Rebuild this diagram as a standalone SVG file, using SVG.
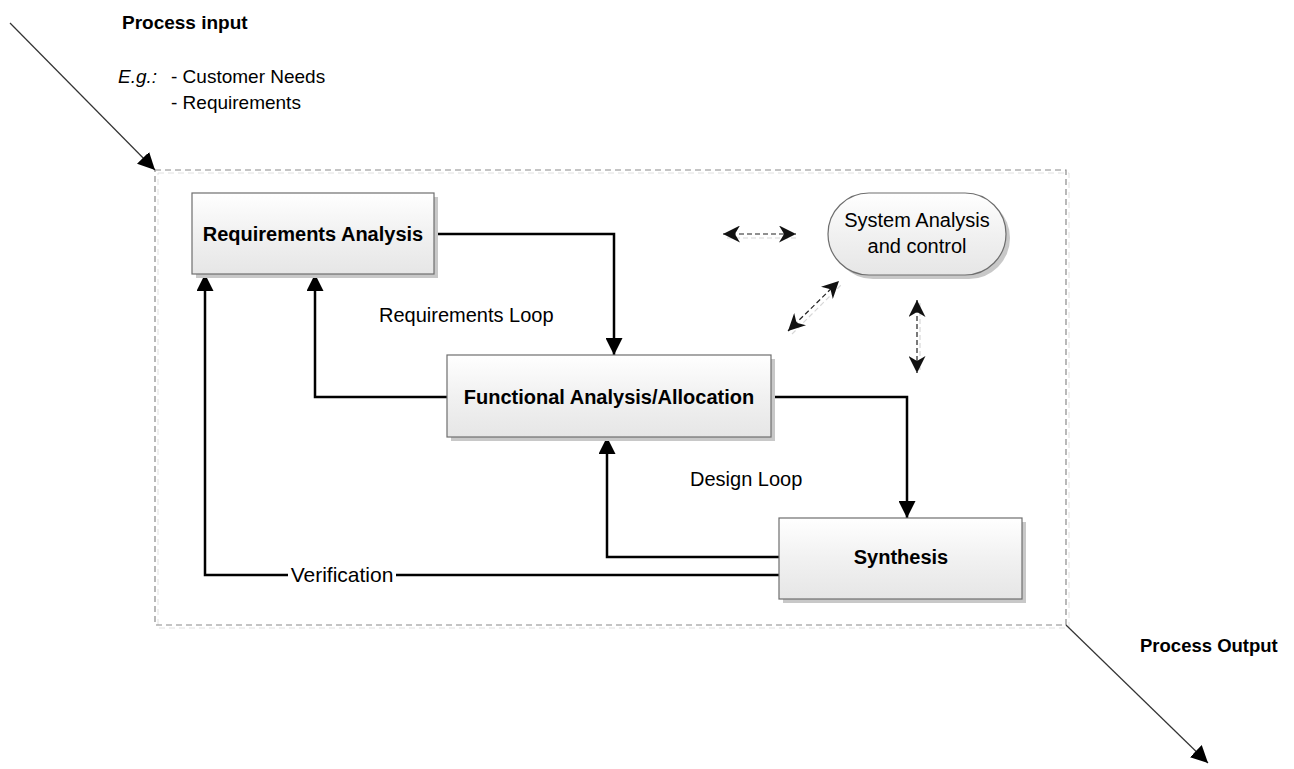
<svg xmlns="http://www.w3.org/2000/svg" width="1294" height="769" viewBox="0 0 1294 769">
<style>
.t{font-family:"Liberation Sans",Arial,sans-serif;fill:#000}
.b{font-weight:bold;font-size:20px}
.n{font-size:20px}
.box{fill:url(#g);stroke:#6e6e6e;stroke-width:1.2}
.sh{fill:#c8c8c8}
.w{fill:none;stroke:#000;stroke-width:2.5}
.d{fill:none;stroke:#222;stroke-width:1.2;stroke-dasharray:5,3}
.ds{fill:none;stroke:#d8d8d8;stroke-width:1.2;stroke-dasharray:5,3}
</style>
<defs>
<linearGradient id="g" x1="0" y1="0" x2="0" y2="1">
<stop offset="0" stop-color="#ffffff"/>
<stop offset="0.5" stop-color="#f1f1f1"/>
<stop offset="1" stop-color="#e6e6e6"/>
</linearGradient>
<marker id="ab" viewBox="0 0 10 10" refX="10" refY="5" markerWidth="17" markerHeight="17" markerUnits="userSpaceOnUse" orient="auto">
<path d="M0,0 L10,5 L0,10 Z" fill="#000"/>
</marker>
<marker id="ad" viewBox="0 0 10 10" refX="10" refY="5" markerWidth="17" markerHeight="17" markerUnits="userSpaceOnUse" orient="auto-start-reverse">
<path d="M0,0 L10,5 L0,10 L3,5 Z" fill="#111"/>
</marker>
</defs>
<rect width="1294" height="769" fill="#fff"/>

<g id="boundary">
<rect x="158" y="173" width="911" height="455" fill="none" stroke="#e0e0e0" stroke-width="1" stroke-dasharray="6,4"/>
<rect x="155" y="170" width="911" height="455" fill="none" stroke="#8a8a8a" stroke-width="1.2" stroke-dasharray="6,4"/>
</g>

<g id="labels">
<text class="t" x="122" y="29" font-weight="bold" font-size="19">Process input</text>
<text class="t" x="118" y="83" font-size="19" font-style="italic">E.g.:</text>
<text class="t" x="171" y="83" font-size="19">- Customer Needs</text>
<text class="t" x="171" y="109" font-size="19">- Requirements</text>
<text class="t" x="1140" y="652" font-weight="bold" font-size="18.5">Process Output</text>
<text class="t n" x="379" y="322">Requirements Loop</text>
<text class="t n" x="690" y="486">Design Loop</text>
</g>

<g id="connectors">
<line x1="10" y1="23" x2="155" y2="170" stroke="#333" stroke-width="1.2" marker-end="url(#ab)"/>
<line x1="1066" y1="625" x2="1208" y2="763" stroke="#333" stroke-width="1.2" marker-end="url(#ab)"/>
<polyline class="w" points="434,234 614,234 614,355" marker-end="url(#ab)"/>
<polyline class="w" points="447,397 315,397 315,274" marker-end="url(#ab)"/>
<polyline class="w" points="771,397 907,397 907,518" marker-end="url(#ab)"/>
<polyline class="w" points="779,557 607,557 607,437" marker-end="url(#ab)"/>
<polyline class="w" points="779,575 396,575"/>
<polyline class="w" points="288,575 205,575 205,274" marker-end="url(#ab)"/>
<text class="t" x="342" y="582" text-anchor="middle" font-size="21">Verification</text>
<line class="ds" x1="727" y1="238" x2="798" y2="238"/>
<line class="ds" x1="792" y1="334" x2="842" y2="284"/>
<line class="ds" x1="920" y1="303" x2="920" y2="370"/>
<line class="d" x1="723" y1="234" x2="796" y2="234" marker-start="url(#ad)" marker-end="url(#ad)"/>
<line class="d" x1="788" y1="331" x2="839" y2="281" marker-start="url(#ad)" marker-end="url(#ad)"/>
<line class="d" x1="917" y1="300" x2="917" y2="373" marker-start="url(#ad)" marker-end="url(#ad)"/>
</g>

<g id="req">
<rect class="sh" x="196" y="197" width="242" height="81"/>
<rect class="box" x="192" y="193" width="242" height="81"/>
<text class="t b" x="313" y="241" text-anchor="middle">Requirements Analysis</text>
</g>

<g id="func">
<rect class="sh" x="451" y="359" width="324" height="82"/>
<rect class="box" x="447" y="355" width="324" height="82"/>
<text class="t b" x="609" y="404" text-anchor="middle">Functional Analysis/Allocation</text>
</g>

<g id="synth">
<rect class="sh" x="783" y="522" width="243" height="81"/>
<rect class="box" x="779" y="518" width="243" height="81"/>
<text class="t b" x="901" y="564" text-anchor="middle">Synthesis</text>
</g>

<g id="sac">
<rect class="sh" x="832" y="197" width="178" height="82" rx="41"/>
<rect class="box" x="828" y="193" width="178" height="82" rx="41"/>
<text class="t n" x="917" y="227" text-anchor="middle">System Analysis</text>
<text class="t n" x="917" y="253" text-anchor="middle">and control</text>
</g>
</svg>
